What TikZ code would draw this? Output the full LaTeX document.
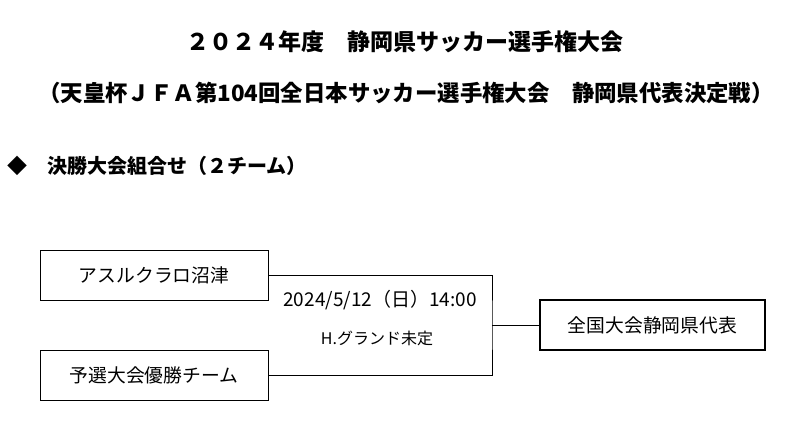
\documentclass[tikz,border=0pt]{standalone}
\usepackage{fontspec}
\setmainfont{Noto Sans CJK JP}
\begin{document}
\begin{tikzpicture}[x=1pt,y=-1pt,
  box/.style={draw,line width=1pt,minimum width=228pt,minimum height=50pt,font=\fontsize{18.8}{22}\selectfont},
  ttl/.style={font=\bfseries\fontsize{23}{26}\selectfont}]
\useasboundingbox (0,0) rectangle (787,422);
\node[ttl] (t1) at (405,42) {２０２４年度　静岡県サッカー選手権大会};
\node[ttl,font=\bfseries\fontsize{22.4}{26}\selectfont] (t2) at (406,93) {（天皇杯ＪＦＡ第104回全日本サッカー選手権大会　静岡県代表決定戦）};
\node[ttl,anchor=west,font=\bfseries\fontsize{20}{24}\selectfont] (t3) at (4,166) {◆　決勝大会組合せ（２チーム）};
\node[box] (a) at (154,275) {アスルクラロ沼津};
\node[box] (b) at (154,375) {予選大会優勝チーム};
\node[box,line width=2.5pt,minimum width=225pt] (c) at (652.5,325) {全国大会静岡県代表};
\coordinate (j) at (492,325);
\draw[line width=1pt] (a.east) -| (j) |- (b.east);
\draw[line width=1pt] (j) -- (c.west);
\node[font=\fontsize{19}{22}\selectfont] (d) at (380,300) {2024/5/12（日）14:00};
\node[font=\fontsize{16}{18}\selectfont] (g) at (377,338) {H.グランド未定};
\end{tikzpicture}
\end{document}
